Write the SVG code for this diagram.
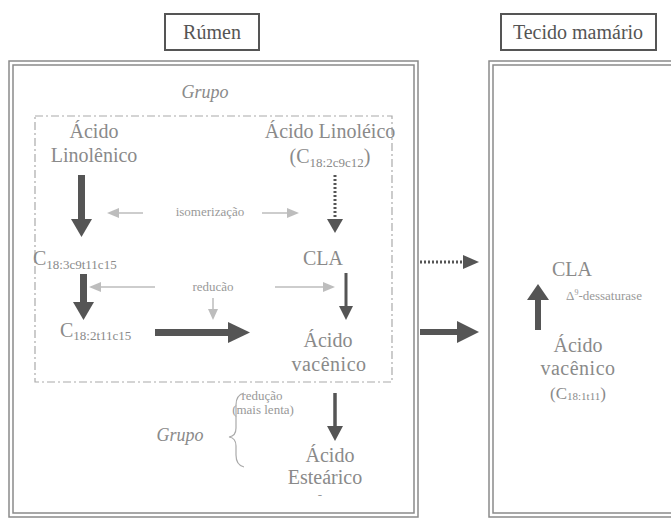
<svg xmlns="http://www.w3.org/2000/svg" width="671" height="519" viewBox="0 0 671 519">
<style>
text{font-family:"Liberation Serif","Times New Roman",serif;fill:#8a8a8a}
.t{font-size:20px}
.lab{font-size:20px;fill:#555}
.s{font-size:13px;fill:#999}
.sub{font-size:13px}
.it{font-style:italic;font-size:18px}
.frame{fill:none;stroke:#8a8a8a;stroke-width:1.5}
.dark{fill:#555}
.darkl{stroke:#555;fill:none}
.gray{stroke:#bdbdbd;stroke-width:1.5;fill:none}
.grayh{fill:#bdbdbd}
</style>
<rect width="671" height="519" fill="#fff"/>
<g id="rumen-label">
<rect x="165" y="14" width="94" height="36" fill="#fff" stroke="#555" stroke-width="2"/>
<text class="lab" x="212" y="39" text-anchor="middle">Rúmen</text>
</g>
<g id="tecido-label">
<rect x="501" y="14" width="155" height="36" fill="#fff" stroke="#555" stroke-width="2"/>
<text class="lab" x="578" y="39" text-anchor="middle">Tecido mamário</text>
</g>
<g id="rumen-box">
<rect class="frame" x="9" y="61" width="409" height="456"/>
<rect class="frame" x="13" y="65" width="401" height="448"/>
</g>
<g id="tecido-box">
<rect class="frame" x="489" y="61" width="190" height="456"/>
<rect class="frame" x="493" y="65" width="190" height="448"/>
</g>
<g id="grupo1"><text class="it" x="205" y="98" text-anchor="middle">Grupo</text>
<rect x="35" y="116" width="357" height="266" fill="none" stroke="#aaa" stroke-width="1.2" stroke-dasharray="8,3,2,3"/></g>
<g id="linolenico"><text class="t" x="94" y="138" text-anchor="middle">Ácido</text><text class="t" x="94" y="162" text-anchor="middle">Linolênico</text></g>
<g id="linoleico"><text class="t" x="330" y="138" text-anchor="middle">Ácido Linoléico</text><text class="t" x="330" y="163" text-anchor="middle">(C<tspan class="sub" dy="4">18:2c9c12</tspan><tspan dy="-4">)</tspan></text></g>
<g id="c183"><text class="t" x="33" y="265">C<tspan class="sub" dy="4">18:3c9t11c15</tspan></text></g>
<g id="cla1"><text class="t" x="323" y="265" text-anchor="middle">CLA</text></g>
<g id="c182"><text class="t" x="60" y="337">C<tspan class="sub" dy="3">18:2t11c15</tspan></text></g>
<g id="vacenico1"><text class="t" x="328" y="347" text-anchor="middle">Ácido</text><text class="t" x="329" y="371" text-anchor="middle" letter-spacing="0.5">vacênico</text></g>
<g id="esteárico"><text class="t" x="330" y="462" text-anchor="middle">Ácido</text><text class="t" x="325" y="484" text-anchor="middle">Esteárico</text><text class="s" x="320" y="499" text-anchor="middle">-</text></g>
<g id="grupo2"><text class="it" x="180" y="441" text-anchor="middle">Grupo</text>
<path d="M244,393 Q236,395 236,405 L236,428 Q236,436 229,437 Q236,438 236,446 L236,455 Q236,465 244,467" fill="none" stroke="#aaa" stroke-width="1.2"/></g>
<g id="cla2"><text class="t" x="552" y="276">CLA</text><text class="s" x="566" y="300">Δ<tspan font-size="8" dy="-5">9</tspan><tspan dy="5">-dessaturase</tspan></text></g>
<g id="vacenico2"><text class="t" x="578" y="352" text-anchor="middle">Ácido</text><text class="t" x="578" y="375" text-anchor="middle" letter-spacing="0.5">vacênico</text><text x="578" y="399" font-size="17" text-anchor="middle">(C<tspan font-size="11" dy="1">18:1t11</tspan><tspan dy="-1">)</tspan></text></g>
<g id="connectors">
<rect class="dark" x="78" y="175" width="7" height="45"/><polygon class="dark" points="71,219 92,219 81.5,237"/>
<line class="darkl" x1="335" y1="175" x2="335" y2="220" stroke-width="3" stroke-dasharray="2,2"/><polygon class="dark" points="327,219 343,219 335,233"/>
<text class="s" x="210" y="216" text-anchor="middle">isomerização</text>
<line class="gray" x1="143" y1="213" x2="118" y2="213"/><polygon class="grayh" points="107,213 119,208 119,218"/>
<line class="gray" x1="262" y1="213" x2="288" y2="213"/><polygon class="grayh" points="299,213 287,208 287,218"/>
<rect class="dark" x="80" y="274" width="7" height="29"/><polygon class="dark" points="73,302 94,302 83.5,320"/>
<text class="s" x="213" y="291" text-anchor="middle">reducão</text>
<line class="gray" x1="155" y1="287" x2="100" y2="287"/><polygon class="grayh" points="89,287 101,282 101,292"/>
<line class="gray" x1="275" y1="287" x2="324" y2="287"/><polygon class="grayh" points="335,287 323,282 323,292"/>
<line class="gray" x1="213" y1="298" x2="213" y2="310"/><polygon class="grayh" points="213,320 208,309 218,309"/>
<line class="darkl" x1="346" y1="273" x2="346" y2="308" stroke-width="3"/><polygon class="dark" points="339,306 353,306 346,320"/>
<rect class="dark" x="155" y="329" width="75" height="7"/><polygon class="dark" points="228,322 250,332.5 228,343"/>
<text class="s" x="262" y="400" text-anchor="middle">redução</text><text class="s" x="263" y="414" text-anchor="middle">(mais lenta)</text>
<line class="darkl" x1="335" y1="393" x2="335" y2="428" stroke-width="3.5"/><polygon class="dark" points="327,426 343,426 335,441"/>
<line class="darkl" x1="420" y1="262" x2="465" y2="262" stroke-width="3" stroke-dasharray="2,2"/><polygon class="dark" points="463,255 479,262 463,269"/>
<rect class="dark" x="420" y="329" width="40" height="6"/><polygon class="dark" points="457,321 479,332 457,343"/>
<rect class="dark" x="535" y="298" width="6" height="32"/><polygon class="dark" points="527,300 549,300 538,284"/>
</g>
</svg>
